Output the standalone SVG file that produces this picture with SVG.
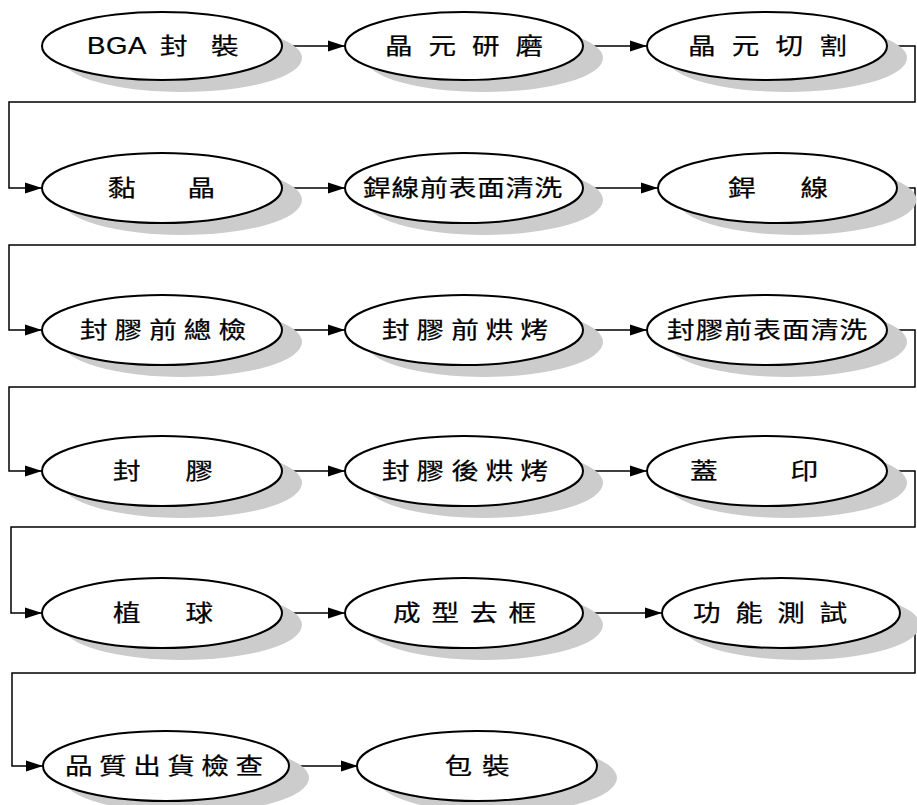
<svg xmlns="http://www.w3.org/2000/svg" width="917" height="805" viewBox="0 0 917 805">
<style>
.sh{fill:#cccccc;stroke:none}
.el{fill:#ffffff;stroke:#000000;stroke-width:2}
.t{font-family:"Liberation Sans","Noto Sans CJK TC",sans-serif;font-size:23px;fill:#000000;text-anchor:middle;stroke:#000000;stroke-width:0.25}
.c{fill:none;stroke:#000000;stroke-width:1.5}
</style>
<defs>
<marker id="ah" markerUnits="userSpaceOnUse" markerWidth="18" markerHeight="12" refX="17" refY="6" orient="auto">
<path d="M0,0.5 L17,6 L0,11.5 Z" fill="#000000"/>
</marker>
</defs>
<rect width="917" height="805" fill="#ffffff"/>
<g id="connectors">
<line class="c" x1="282" y1="46" x2="345" y2="46" marker-end="url(#ah)"/>
<line class="c" x1="583" y1="46" x2="647" y2="46" marker-end="url(#ah)"/>
<path class="c" d="M887,46 H915 V102 H9 V188 H42" marker-end="url(#ah)"/>
<line class="c" x1="282" y1="188" x2="345" y2="188" marker-end="url(#ah)"/>
<line class="c" x1="583" y1="188" x2="658" y2="188" marker-end="url(#ah)"/>
<path class="c" d="M897,188 H915 V245 H9 V330 H42" marker-end="url(#ah)"/>
<line class="c" x1="282" y1="330" x2="345" y2="330" marker-end="url(#ah)"/>
<line class="c" x1="583" y1="330" x2="647" y2="330" marker-end="url(#ah)"/>
<path class="c" d="M887,330 H915 V387 H9 V471 H42" marker-end="url(#ah)"/>
<line class="c" x1="282" y1="471" x2="345" y2="471" marker-end="url(#ah)"/>
<line class="c" x1="583" y1="471" x2="647" y2="471" marker-end="url(#ah)"/>
<path class="c" d="M887,471 H915 V527 H11 V613 H42" marker-end="url(#ah)"/>
<line class="c" x1="282" y1="613" x2="345" y2="613" marker-end="url(#ah)"/>
<line class="c" x1="583" y1="613" x2="662" y2="613" marker-end="url(#ah)"/>
<path class="c" d="M887,623 H915 V673 H12 V766 H43" marker-end="url(#ah)"/>
<line class="c" x1="289" y1="766" x2="358" y2="766" marker-end="url(#ah)"/>
</g>
<g id="n1"><ellipse class="sh" cx="182" cy="58" rx="120" ry="34"/><ellipse class="el" cx="162" cy="46" rx="120" ry="34"/><text class="t" transform="translate(87,54) scale(1.2,1)" style="text-anchor:start"><tspan letter-spacing="0.5">BGA</tspan><tspan x="60.8">封</tspan><tspan x="103.3">裝</tspan></text></g>
<g id="n2"><ellipse class="sh" cx="484" cy="58" rx="119" ry="34"/><ellipse class="el" cx="464" cy="46" rx="119" ry="34"/><text class="t" transform="translate(464,54) scale(1.2,1)" textLength="131.7" lengthAdjust="spacing">晶 元 研 磨</text></g>
<g id="n3"><ellipse class="sh" cx="787" cy="58" rx="120" ry="34"/><ellipse class="el" cx="767" cy="46" rx="120" ry="34"/><text class="t" transform="translate(767.5,54) scale(1.2,1)" textLength="132.5" lengthAdjust="spacing">晶 元 切 割</text></g>
<g id="n4"><ellipse class="sh" cx="182" cy="200" rx="120" ry="35"/><ellipse class="el" cx="162" cy="188" rx="120" ry="35"/><text class="t" transform="translate(161.5,196) scale(1.2,1)" textLength="89.2" lengthAdjust="spacing">黏　　晶</text></g>
<g id="n5"><ellipse class="sh" cx="484" cy="200" rx="119" ry="35"/><ellipse class="el" cx="464" cy="188" rx="119" ry="35"/><text class="t" transform="translate(462.5,196) scale(1.2,1)" textLength="165.8" lengthAdjust="spacing">銲線前表面清洗</text></g>
<g id="n6"><ellipse class="sh" cx="797" cy="200" rx="119.5" ry="35"/><ellipse class="el" cx="777.5" cy="188" rx="119.5" ry="35"/><text class="t" transform="translate(778,196) scale(1.2,1)" textLength="83.3" lengthAdjust="spacing">銲　　線</text></g>
<g id="n7"><ellipse class="sh" cx="182" cy="342" rx="120" ry="35"/><ellipse class="el" cx="162" cy="330" rx="120" ry="35"/><text class="t" transform="translate(163,338) scale(1.2,1)" textLength="138.3" lengthAdjust="spacing">封膠前總檢</text></g>
<g id="n8"><ellipse class="sh" cx="484" cy="342" rx="119" ry="35"/><ellipse class="el" cx="464" cy="330" rx="119" ry="35"/><text class="t" transform="translate(465,338) scale(1.2,1)" textLength="138.3" lengthAdjust="spacing">封膠前烘烤</text></g>
<g id="n9"><ellipse class="sh" cx="787" cy="342" rx="120" ry="35"/><ellipse class="el" cx="767" cy="330" rx="120" ry="35"/><text class="t" transform="translate(767,338) scale(1.2,1)" textLength="166.7" lengthAdjust="spacing">封膠前表面清洗</text></g>
<g id="n10"><ellipse class="sh" cx="182" cy="483" rx="120" ry="35"/><ellipse class="el" cx="162" cy="471" rx="120" ry="35"/><text class="t" transform="translate(163,479) scale(1.2,1)" textLength="83.3" lengthAdjust="spacing">封　膠</text></g>
<g id="n11"><ellipse class="sh" cx="484" cy="483" rx="119" ry="35"/><ellipse class="el" cx="464" cy="471" rx="119" ry="35"/><text class="t" transform="translate(465,479) scale(1.2,1)" textLength="138.3" lengthAdjust="spacing">封膠後烘烤</text></g>
<g id="n12"><ellipse class="sh" cx="787" cy="483" rx="120" ry="35"/><ellipse class="el" cx="767" cy="471" rx="120" ry="35"/><text class="t" transform="translate(754,479) scale(1.2,1)" textLength="106.7" lengthAdjust="spacing">蓋　印</text></g>
<g id="n13"><ellipse class="sh" cx="182" cy="625" rx="120" ry="35"/><ellipse class="el" cx="162" cy="613" rx="120" ry="35"/><text class="t" transform="translate(163,621) scale(1.2,1)" textLength="83.3" lengthAdjust="spacing">植　球</text></g>
<g id="n14"><ellipse class="sh" cx="484" cy="625" rx="119" ry="35"/><ellipse class="el" cx="464" cy="613" rx="119" ry="35"/><text class="t" transform="translate(464.5,621) scale(1.2,1)" textLength="119.2" lengthAdjust="spacing">成型去框</text></g>
<g id="n15"><ellipse class="sh" cx="801" cy="625" rx="119" ry="35"/><ellipse class="el" cx="781" cy="613" rx="119" ry="35"/><text class="t" transform="translate(770,621) scale(1.2,1)" textLength="128.3" lengthAdjust="spacing">功能測試</text></g>
<g id="n16"><ellipse class="sh" cx="186" cy="778" rx="123" ry="35"/><ellipse class="el" cx="166" cy="766" rx="123" ry="35"/><text class="t" transform="translate(164,774) scale(1.2,1)" textLength="165" lengthAdjust="spacing">品質出貨檢查</text></g>
<g id="n17"><ellipse class="sh" cx="497" cy="778" rx="120" ry="35"/><ellipse class="el" cx="477" cy="766" rx="120" ry="35"/><text class="t" transform="translate(477,774) scale(1.2,1)" textLength="54.2" lengthAdjust="spacing">包裝</text></g>
</svg>
